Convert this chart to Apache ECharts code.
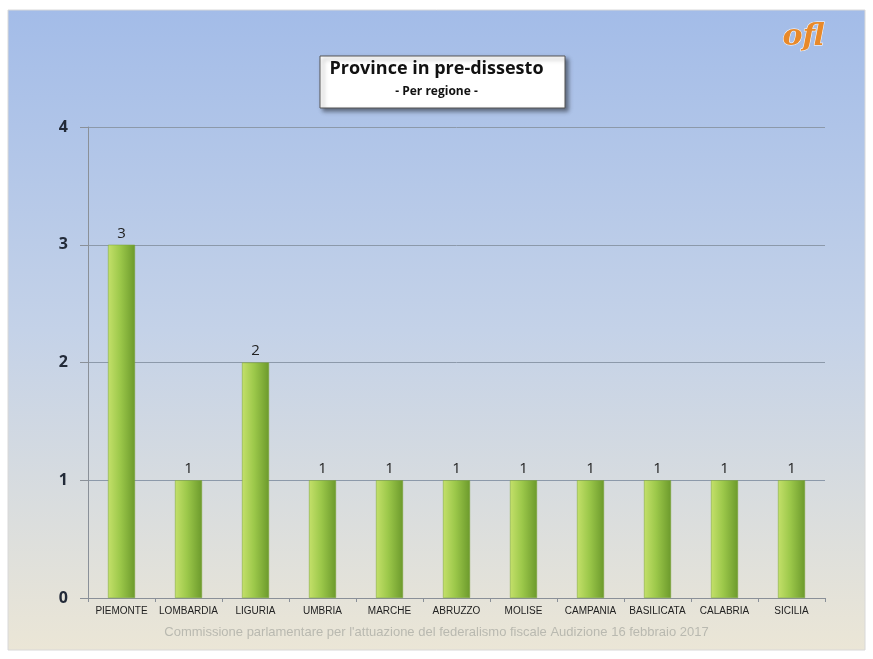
<!DOCTYPE html>
<html>
<head>
<meta charset="utf-8">
<script src="https://cdn.jsdelivr.net/npm/echarts@6/dist/echarts.min.js"></script>
<style>
  html, body { margin: 0; padding: 0; background: #ffffff; }
  #chart { width: 873px; height: 659px; }
</style>
</head>
<body>
<div id="chart"></div>
<script>
// dati
var regioni = ['PIEMONTE', 'LOMBARDIA', 'LIGURIA', 'UMBRIA', 'MARCHE', 'ABRUZZO',
  'MOLISE', 'CAMPANIA', 'BASILICATA', 'CALABRIA', 'SICILIA'];
var province = [3, 1, 2, 1, 1, 1, 1, 1, 1, 1, 1];
var yTicks = [0, 1, 2, 3, 4];

var myChart = echarts.init(document.getElementById('chart'));

myChart.setOption({
  animation: false,
  graphic: [
    {
      // pannello con sfondo sfumato
      type: 'rect', z: -10,
      shape: { x: 8, y: 10, width: 857, height: 640 },
      style: {
        fill: new echarts.graphic.LinearGradient(0, 0, 0, 1, [
          { offset: 0, color: '#a3bce8' },
          { offset: 0.5, color: '#c4d2e8' },
          { offset: 1, color: '#ebe6d6' }
        ]),
        stroke: '#d8d8d8', lineWidth: 1
      }
    },
    {
      // box del titolo
      type: 'rect', z: 5,
      shape: { x: 320, y: 56, width: 245, height: 52 },
      style: {
        fill: '#ffffff', stroke: '#555555', lineWidth: 1,
        shadowBlur: 4, shadowOffsetX: 3, shadowOffsetY: 3, shadowColor: 'rgba(0,0,0,0.45)'
      }
    },
    {
      type: 'text', z: 6, left: 'center', top: 60,
      style: { text: 'Province in pre-dissesto', font: 'bold 18px "Open Sans", sans-serif', fill: '#111111' }
    },
    {
      type: 'text', z: 6, left: 'center', top: 86,
      style: { text: '- Per regione -', font: 'bold 12px "Open Sans", sans-serif', fill: '#111111' }
    },
    {
      // logo
      type: 'text', z: 6, left: 782, top: 22,
      style: { text: 'ofl', font: 'italic bold 30px "DejaVu Serif", serif', fill: '#e8892a', stroke: '#ffffff', lineWidth: 1 }
    },
    {
      type: 'text', z: 6, left: 'center', top: 626,
      style: {
        text: "Commissione parlamentare per l'attuazione del federalismo fiscale Audizione 16 febbraio 2017",
        font: '13px "Liberation Sans Narrow", "Liberation Sans", sans-serif', fill: '#b9b9b0'
      }
    }
  ],
  grid: { left: 88, right: 48, top: 127, bottom: 61 },
  xAxis: {
    type: 'category',
    data: regioni,
    axisLine: { lineStyle: { color: '#8a9098' } },
    axisTick: { show: true, alignWithLabel: false, length: 4, lineStyle: { color: '#8a9098' } },
    axisLabel: {
      interval: 0, color: '#222222', margin: 8,
      fontFamily: '"Liberation Sans Narrow", sans-serif', fontSize: 10
    }
  },
  yAxis: {
    type: 'value',
    min: yTicks[0], max: yTicks[yTicks.length - 1], interval: 1,
    axisLine: { show: true, lineStyle: { color: '#8a9098' } },
    axisTick: { show: true, length: 8, lineStyle: { color: '#8a9098' } },
    axisLabel: { color: '#222a38', fontSize: 16, fontWeight: 'bold', margin: 20, fontFamily: '"Open Sans", sans-serif' },
    splitLine: { lineStyle: { color: '#8c99aa', width: 1 } }
  },
  series: [
    {
      type: 'bar',
      data: province,
      barWidth: 27,
      itemStyle: {
        color: new echarts.graphic.LinearGradient(0, 0, 1, 0, [
          { offset: 0, color: '#c4e06a' },
          { offset: 0.45, color: '#9cc84a' },
          { offset: 1, color: '#6c9a2c' }
        ]),
        borderColor: '#7aa236', borderWidth: 0.5
      },
      label: {
        show: true, position: 'top', distance: 4,
        color: '#222222', fontSize: 15, fontFamily: '"Open Sans", sans-serif'
      }
    }
  ]
});
</script>
</body>
</html>
